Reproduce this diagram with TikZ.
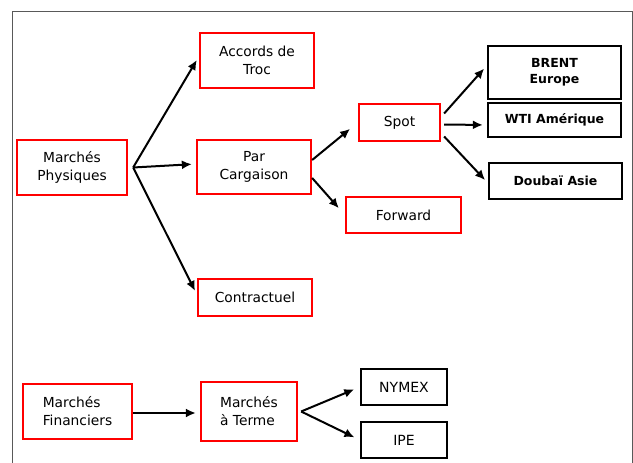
\documentclass[tikz,border=0pt]{standalone}
\usepackage{fontspec}
\setmainfont{DejaVu Sans}
\usetikzlibrary{arrows.meta}

\tikzset{
	redbox/.style={draw=red, line width=2.3pt, fill=white, align=center, inner sep=2pt},
	blackbox/.style={draw=black, line width=2.3pt, fill=white, align=center, inner sep=2pt, font=\fontsize{12.5}{16}\selectfont\bfseries},
	link/.style={line width=2pt, -{Latex[length=10pt, width=9pt]}, shorten >=4pt},
}

\begin{document}
\begin{tikzpicture}[x=1pt, y=-1pt, font=\fontsize{13.8}{18}\selectfont]
		\useasboundingbox (0,0) rectangle (633,463);
		% Outer frame
		\draw[gray!70!black, line width=0.8pt] (12,11) rectangle (632,480);

		% Physical markets
		\node[redbox, minimum width=110pt, minimum height=55pt] (phys) at (72,167.5) {Marchés\\Physiques};
		\node[redbox, minimum width=114pt, minimum height=55pt] (acc) at (257,60.5) {Accords de\\Troc};
		\node[redbox, minimum width=114pt, minimum height=54pt] (carg) at (254,167) {Par\\Cargaison};
		\node[redbox, minimum width=114pt, minimum height=37pt] (contr) at (255,297.5) {Contractuel};

		% Cargo markets
		\node[redbox, minimum width=81pt, minimum height=37pt] (spot) at (399.5,122.5) {Spot};
		\node[redbox, minimum width=115pt, minimum height=36pt] (fwd) at (403.5,215) {Forward};

		% Reference crudes
		\node[blackbox, minimum width=133pt, minimum height=53pt] (brent) at (554.5,72.5) {BRENT\\Europe};
		\node[blackbox, minimum width=133pt, minimum height=34pt] (wti) at (554.5,120) {WTI Amérique};
		\node[blackbox, minimum width=133pt, minimum height=36pt] (doubai) at (555.5,181) {Doubaï Asie};

		% Financial markets
		\node[redbox, minimum width=109pt, minimum height=55pt, align=left] (fin) at (77.5,411.5) {Marchés\\Financiers};
		\node[redbox, minimum width=96pt, minimum height=59pt, align=left] (terme) at (249,411.5) {Marchés\\à Terme};
		\node[blackbox, font=\fontsize{14}{16}\selectfont, minimum width=86pt, minimum height=36pt] (nymex) at (404,387) {NYMEX};
		\node[blackbox, font=\fontsize{14}{16}\selectfont, minimum width=86pt, minimum height=36pt] (ipe) at (404,440) {IPE};

		% Branching points
		\coordinate (j1) at ([xshift=5pt]phys.east);
		\coordinate (j2) at ([xshift=3pt]terme.east);

		% Arrows
		\draw[link] (j1) -- ([yshift=4pt]acc.west);
		\draw[link] (j1) -- ([yshift=3pt]carg.west);
		\draw[link] (j1) -- ([yshift=3pt]contr.west);
		\draw[link, shorten >=10pt] ([yshift=7pt]carg.east) -- (spot.west);
		\draw[link, shorten >=9pt] ([yshift=-11pt]carg.east) -- (fwd.west);
		\draw[link] ([xshift=3pt, yshift=9pt]spot.east) -- ([yshift=7pt]brent.west);
		\draw[link] ([xshift=3pt, yshift=-2pt]spot.east) -- ([yshift=-5pt]wti.west);
		\draw[link] ([xshift=3pt, yshift=-14pt]spot.east) -- ([yshift=-2pt]doubai.west);
		\draw[link] ([yshift=-1.5pt]fin.east) -- ([yshift=-1.5pt]terme.west);
		\draw[link, shorten >=6pt] (j2) -- (nymex.west);
		\draw[link, shorten >=6pt] (j2) -- (ipe.west);
\end{tikzpicture}
\end{document}
